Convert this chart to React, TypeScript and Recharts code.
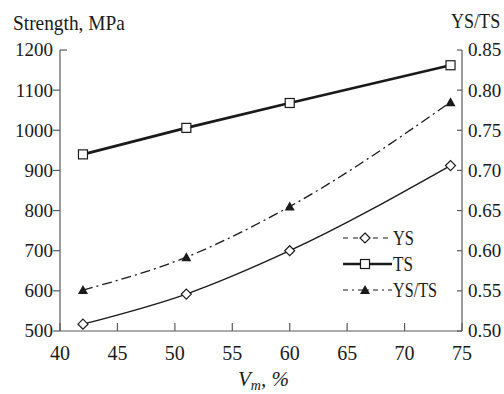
import { LineChart, Line, XAxis, YAxis, Legend } from "recharts";

// volume fraction of martensite, %
const vm = [42, 51, 60, 74];
const ys = [517, 592, 700, 912];
const ts = [940, 1006, 1068, 1162];
const ysTs = [0.551, 0.592, 0.655, 0.785];

const xTicks = [40, 45, 50, 55, 60, 65, 70, 75];
const strengthTicks = [500, 600, 700, 800, 900, 1000, 1100, 1200];
const ratioTicks = [0.5, 0.55, 0.6, 0.65, 0.7, 0.75, 0.8, 0.85];

const data = vm.map((v, i) => ({ vm: v, ys: ys[i], ts: ts[i], ysTs: ysTs[i] }));

const FONT = "Liberation Serif";
const INK = "#1a1a1a";
const AXIS = "#5a5a5a";

const css = `
body { margin: 0; }
#root text, #root tspan { font-family: "Liberation Serif", "Times New Roman", serif !important; }
`;

const Diamond = ({ cx, cy }: any) => (
  <path
    d={`M${cx},${cy - 5} L${cx + 5},${cy} L${cx},${cy + 5} L${cx - 5},${cy} Z`}
    fill="#fff"
    stroke={INK}
    strokeWidth={1.2}
  />
);

const Square = ({ cx, cy }: any) => (
  <rect x={cx - 4.5} y={cy - 4.5} width={9} height={9} fill="#fff" stroke={INK} strokeWidth={1.2} />
);

const Triangle = ({ cx, cy }: any) => (
  <path d={`M${cx},${cy - 5} L${cx + 5},${cy + 4} L${cx - 5},${cy + 4} Z`} fill={INK} />
);

const LeftTick = ({ x, y, payload }: any) => {
  const top = payload.value === 1200;
  return (
    <g>
      <line x1={top ? x : x - 7} x2={top ? x + 7 : x} y1={y} y2={y} stroke={AXIS} strokeWidth={1.2} />
      <text x={x - 7} y={y} dy="0.34em" textAnchor="end" fontFamily={FONT} fontSize={19} fill={INK}>
        {payload.value}
      </text>
    </g>
  );
};

const RightTick = ({ x, y, payload }: any) => (
  <g>
    <line x1={x - 5} x2={x} y1={y} y2={y} stroke={AXIS} strokeWidth={1.2} />
    <text x={x + 6} y={y} dy="0.34em" textAnchor="start" fontFamily={FONT} fontSize={19} fill={INK}>
      {payload.value.toFixed(2)}
    </text>
  </g>
);

const BottomTick = ({ x, y, payload }: any) => (
  <g>
    <line x1={x} x2={x} y1={y} y2={y - 8} stroke={AXIS} strokeWidth={1.2} />
    <text x={x} y={y + 29} textAnchor="middle" fontFamily={FONT} fontSize={20} fill={INK}>
      {payload.value}
    </text>
  </g>
);

const legendRows = [
  { name: "YS", dash: "5 5", width: 1.2, marker: Diamond, textLen: 21 },
  { name: "TS", dash: undefined, width: 2.6, marker: Square, textLen: 20 },
  { name: "YS/TS", dash: "5 4 2 4", width: 1.2, marker: Triangle, textLen: 44 },
];

const LegendBox = () => (
  <svg width={130} height={80} style={{ display: "block" }}>
    {legendRows.map((r, i) => {
      const cy = 13 + i * 26;
      const M = r.marker;
      return (
        <g key={r.name}>
          <line x1={3} x2={52} y1={cy} y2={cy} stroke={INK} strokeWidth={r.width} strokeDasharray={r.dash} />
          <M cx={25} cy={cy} />
          <text
            x={53}
            y={cy + 7}
            fontFamily={FONT}
            fontSize={20}
            fill={INK}
            textLength={r.textLen}
            lengthAdjust="spacingAndGlyphs"
          >
            {r.name}
          </text>
        </g>
      );
    })}
  </svg>
);

// axis titles sit on top of the chart as plain html
const titleStyle = (left: number, top: number, size: number, scale: number): React.CSSProperties => ({
  position: "absolute",
  left,
  top,
  fontFamily: '"Liberation Serif", serif',
  fontSize: size,
  lineHeight: 1,
  color: INK,
  whiteSpace: "nowrap",
  transform: `scaleX(${scale})`,
  transformOrigin: "left top",
  zIndex: 2,
});

const App = () => {
  return (
    <div style={{ position: "relative", width: 504, height: 394 }}>
      <style>{css}</style>
      <LineChart width={504} height={394} data={data} margin={{ top: 50, right: 0, left: 0, bottom: 0 }}>
        <XAxis
          dataKey="vm"
          type="number"
          domain={[40, 75]}
          ticks={xTicks}
          height={63}
          tickSize={0}
          tickMargin={0}
          tickLine={false}
          tick={<BottomTick />}
          stroke={AXIS}
          strokeWidth={1.2}
        />
        <YAxis
          yAxisId="left"
          domain={[500, 1200]}
          ticks={strengthTicks}
          width={60}
          tickSize={0}
          tickMargin={0}
          tickLine={false}
          tick={<LeftTick />}
          stroke={AXIS}
          strokeWidth={1.2}
          interval={0}
        />
        <YAxis
          yAxisId="right"
          orientation="right"
          domain={[0.5, 0.85]}
          ticks={ratioTicks}
          width={42}
          tickSize={0}
          tickMargin={0}
          tickLine={false}
          tick={<RightTick />}
          stroke={AXIS}
          strokeWidth={1.2}
          interval={0}
        />
        <Legend
          layout="horizontal"
          align="center"
          verticalAlign="middle"
          content={<LegendBox />}
          wrapperStyle={{ position: "absolute", left: 340, top: 225, width: 130, height: 80 }}
        />
        <Line
          yAxisId="left"
          type="linear"
          dataKey="ts"
          name="TS"
          stroke={INK}
          strokeWidth={2.6}
          dot={(p: any) => <Square key={`ts-${p.index}`} {...p} />}
          isAnimationActive={false}
        />
        <Line
          yAxisId="left"
          type="monotone"
          dataKey="ys"
          name="YS"
          stroke={INK}
          strokeWidth={1.3}
          dot={(p: any) => <Diamond key={`ys-${p.index}`} {...p} />}
          isAnimationActive={false}
        />
        <Line
          yAxisId="right"
          type="monotone"
          dataKey="ysTs"
          name="YS/TS"
          stroke={INK}
          strokeWidth={1.3}
          strokeDasharray="10 4 2 4"
          dot={(p: any) => <Triangle key={`r-${p.index}`} {...p} />}
          isAnimationActive={false}
        />
        <text x={238} y={386} fontFamily={FONT} fontSize={21} fontStyle="italic" fill={INK}>
          V
          <tspan fontSize={14} dy={4}>m</tspan>
          <tspan dy={-4}>, %</tspan>
        </text>
      </LineChart>
      <div style={titleStyle(13, 11.6, 22, 0.88)}>Strength, MPa</div>
      <div style={titleStyle(451, 11.4, 21, 0.86)}>YS/TS</div>
    </div>
  );
};

export default App;
